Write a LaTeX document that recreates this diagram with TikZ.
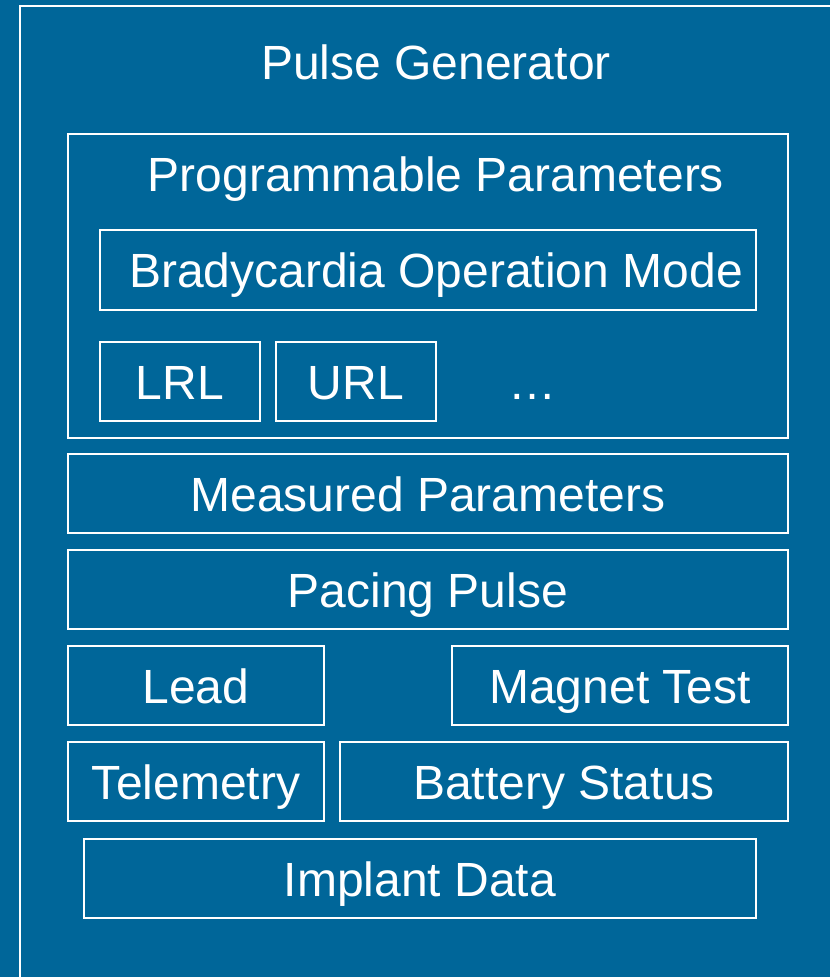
\documentclass[tikz,border=0pt]{standalone}
\usepackage{fontspec}
\setmainfont{Liberation Sans}
\definecolor{bg}{RGB}{0,102,153}
\begin{document}
\begin{tikzpicture}[x=1pt,y=-1pt,
  box/.style={draw=white,line width=2pt},
  lbl/.style={text=white,font=\fontsize{48}{58}\selectfont,inner sep=0pt,anchor=base}]
\useasboundingbox (0,0) rectangle (830,977);
\fill[bg] (0,0) rectangle (830,977);
\begin{scope}
\clip (0,0) rectangle (830,977);
\draw[box] (20,6) rectangle (850,1000);
\end{scope}
\node[lbl] (pg) at (436,79) {Pulse Generator};
\draw[box] (68,134) rectangle (788,438);
\node[lbl] (pp) at (436,191) {Programmable Parameters};
\draw[box] (100,230) rectangle (756,310);
\node[lbl] (bom) at (436,287) {Bradycardia Operation Mode};
\draw[box] (100,342) rectangle (260,421);
\node[lbl] (lrl) at (180,399) {LRL};
\draw[box] (276,342) rectangle (436,421);
\node[lbl] (url) at (356,399) {URL};
\node[lbl] (dots) at (532,399) {…};
\draw[box] (68,454) rectangle (788,533);
\node[lbl] (mp) at (428,511) {Measured Parameters};
\draw[box] (68,550) rectangle (788,629);
\node[lbl] (pup) at (428,607) {Pacing Pulse};
\draw[box] (68,646) rectangle (324,725);
\node[lbl] (lead) at (196,703) {Lead};
\draw[box] (452,646) rectangle (788,725);
\node[lbl] (mt) at (620,703) {Magnet Test};
\draw[box] (68,742) rectangle (324,821);
\node[lbl] (tel) at (196,799) {Telemetry};
\draw[box] (340,742) rectangle (788,821);
\node[lbl] (bs) at (564,799) {Battery Status};
\draw[box] (84,839) rectangle (756,918);
\node[lbl] (id) at (420,896) {Implant Data};
\end{tikzpicture}
\end{document}
